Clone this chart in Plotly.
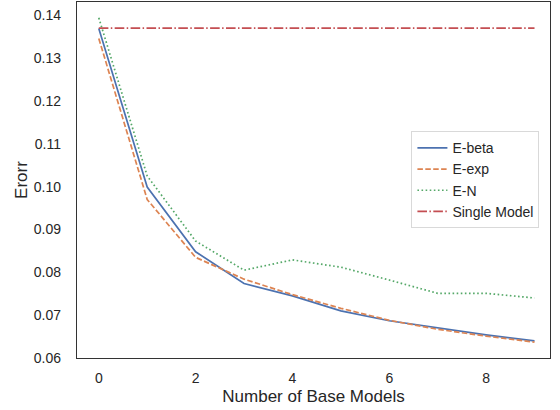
import plotly.graph_objects as go

x_vals = list(range(10))
e_beta = [0.1369, 0.0999, 0.0848, 0.0774, 0.0745, 0.0710, 0.0687, 0.0671, 0.0654, 0.0640]
e_exp = [0.1346, 0.0970, 0.0835, 0.0784, 0.0748, 0.0716, 0.0688, 0.0667, 0.0651, 0.0637]
e_n = [0.1394, 0.1025, 0.0873, 0.0805, 0.0829, 0.0812, 0.0782, 0.0751, 0.0751, 0.0740]
single = [0.1370] * 10

series = [
    ("E-beta", e_beta, "#4C72B0", "solid"),
    ("E-exp", e_exp, "#DD8452", "5.5px,2.4px"),
    ("E-N", e_n, "#55A868", "1.6px,2.5px"),
    ("Single Model", single, "#C44E52", "9.6px,2.4px,1.5px,2.4px"),
]

fig = go.Figure()
for name, ys, color, dash in series:
    fig.add_trace(go.Scatter(x=x_vals, y=ys, mode="lines", name=name,
                             line=dict(color=color, width=1.7, dash=dash)))

font = dict(family="Liberation Sans, Arial, sans-serif", size=14, color="#262626")
fig.update_layout(
    width=560, height=410,
    margin=dict(l=77, r=10, t=2, b=52),
    plot_bgcolor="white", paper_bgcolor="white",
    font=font,
    legend=dict(x=0.707, y=0.637, xanchor="left", yanchor="top",
                bordercolor="#d9d9d9", borderwidth=1, bgcolor="rgba(255,255,255,0.8)",
                font=dict(size=14), tracegroupgap=0, itemwidth=30),
    showlegend=True,
)
fig.update_xaxes(range=[-0.45, 9.32], tickvals=[0, 2, 4, 6, 8], showgrid=False, zeroline=False,
                 showline=True, mirror=True, linecolor="#333333", linewidth=1.3,
                 ticks="", ticklabelstandoff=7,
                 title=dict(text="Number of Base Models", standoff=5))
fig.update_yaxes(range=[0.06, 0.1431], tickvals=[0.06, 0.07, 0.08, 0.09, 0.10, 0.11, 0.12, 0.13, 0.14],
                 tickformat=".2f", showgrid=False, zeroline=False,
                 showline=True, mirror=True, linecolor="#333333", linewidth=1.3,
                 ticks="", ticklabelstandoff=12,
                 title=dict(text="Erorr", standoff=1))
fig.write_html("out.html", config={"displayModeBar": False},
               post_script="document.body.style.margin='0';")
